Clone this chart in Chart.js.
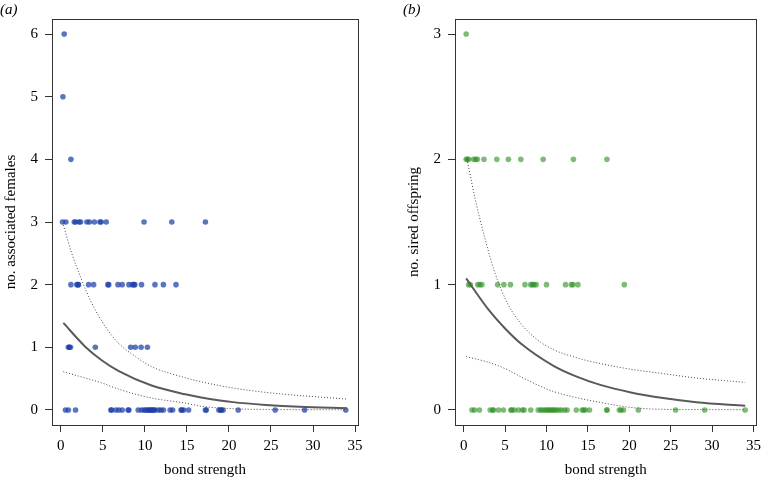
<!DOCTYPE html>
<html>
<head>
<meta charset="utf-8">
<script src="https://cdn.jsdelivr.net/npm/chart.js@4.4.0/dist/chart.umd.min.js"></script>
<style>
  body { margin: 0; background: #fff; }
  #wrapA { position: absolute; left: 0; top: 0; width: 380px; height: 479px; }
  #wrapB { position: absolute; left: 403px; top: 0; width: 363px; height: 479px; }
</style>
</head>
<body>
<div id="wrapA"><canvas id="chartA" width="380" height="479"></canvas></div>
<div id="wrapB"><canvas id="chartB" width="363" height="479"></canvas></div>
<script>
// axes
const xTicks = [0, 5, 10, 15, 20, 25, 30, 35];
const yTicksA = [0, 1, 2, 3, 4, 5, 6];
const yTicksB = [0, 1, 2, 3];

// (a) bond strength of males, grouped by no. associated females
const femalesAt0 = [0.55, 0.9, 1.75, 5.95, 6.05, 6.55, 6.9, 7.3, 8.0, 8.1, 9.2, 9.6, 9.9, 10.1, 10.3, 10.5, 10.6, 10.8, 10.9, 11.1, 11.2, 11.6, 11.9, 12.2, 13.0, 13.3, 14.3, 14.4, 14.6, 15.2, 17.2, 17.3, 18.8, 19.0, 19.1, 19.3, 21.1, 25.5, 29.0, 33.9];
const femalesAt1 = [0.9, 1.0, 1.15, 4.1, 8.3, 8.85, 9.55, 10.3];
const femalesAt2 = [1.2, 1.9, 2.05, 2.1, 3.3, 3.9, 5.6, 5.7, 6.8, 7.3, 8.1, 8.5, 8.7, 8.8, 9.6, 11.2, 12.2, 13.7];
const femalesAt3 = [0.2, 0.6, 1.6, 1.75, 2.15, 2.35, 3.1, 3.4, 4.0, 4.65, 4.8, 5.4, 9.9, 13.2, 17.2];
const femalesAt4 = [1.2];
const femalesAt5 = [0.25];
const femalesAt6 = [0.4];

// (b) bond strength of males, grouped by no. sired offspring
const offspringAt0 = [1.0, 1.3, 1.9, 3.2, 3.5, 3.6, 4.2, 4.8, 5.7, 5.8, 6.1, 6.6, 7.1, 7.3, 8.1, 9.0, 9.3, 9.5, 9.8, 10.0, 10.2, 10.4, 10.6, 10.8, 11.0, 11.2, 11.5, 11.8, 12.2, 12.5, 13.6, 14.3, 14.5, 14.7, 15.2, 17.3, 17.3, 18.8, 19.0, 19.3, 21.1, 25.6, 29.1, 34.0];
const offspringAt1 = [0.6, 0.8, 1.7, 1.95, 2.2, 4.1, 4.85, 5.65, 7.4, 8.1, 8.3, 8.5, 8.75, 10.0, 12.3, 13.0, 13.2, 13.8, 19.4];
const offspringAt2 = [0.3, 0.45, 0.6, 1.2, 1.45, 1.65, 2.45, 4.0, 5.4, 6.9, 9.6, 13.25, 17.3];
const offspringAt3 = [0.3];

// fitted curve and confidence band, (a)
const fitAX = [0.3, 2.9, 4.9, 6.9, 10.8, 14.8, 16.7, 20.5, 24.4, 28.4, 34];
const fitA = [1.39, 1.01, 0.79, 0.62, 0.39, 0.25, 0.2, 0.125, 0.08, 0.05, 0.028];
const upperAX = [0.3, 1.3, 2.5, 3.7, 5.3, 6.9, 8.9, 10.8, 13.6, 16.7, 20.5, 24.4, 28.4, 34];
const upperA = [2.95, 2.5, 2.07, 1.70, 1.33, 1.06, 0.85, 0.69, 0.56, 0.45, 0.35, 0.28, 0.23, 0.175];
const lowerAX = [0.3, 2.9, 4.9, 6.9, 10.8, 14.8, 16.7, 20.5, 24.4, 28.4, 34];
const lowerA = [0.61, 0.51, 0.43, 0.33, 0.19, 0.11, 0.06, 0.02, 0.008, 0.005, 0.003];

// fitted curve and confidence band, (b)
const fitBX = [0.3, 3.0, 5.0, 6.9, 10.9, 13.5, 16.5, 20.2, 24.1, 28.1, 34];
const fitB = [1.05, 0.8, 0.65, 0.53, 0.35, 0.27, 0.2, 0.14, 0.095, 0.062, 0.034];
const upperBX = [0.4, 1.4, 2.6, 3.8, 5.3, 6.9, 8.9, 10.9, 14.0, 16.5, 20.2, 24.1, 28.1, 34];
const upperB = [2.0, 1.68, 1.36, 1.09, 0.85, 0.69, 0.56, 0.48, 0.41, 0.37, 0.325, 0.29, 0.255, 0.22];
const lowerBX = [0.3, 3.0, 5.0, 6.9, 8.9, 10.9, 14.0, 16.5, 20.2, 24.1, 28.1, 34];
const lowerB = [0.425, 0.38, 0.33, 0.265, 0.2, 0.146, 0.093, 0.06, 0.02, 0.005, 0.003, 0.002];

const serif = "'Liberation Serif', 'DejaVu Serif', serif";

function rowsToPoints(rows) {
  const pts = [];
  rows.forEach((xs, count) => xs.forEach(x => pts.push({ x: x, y: count })));
  return pts;
}
function toLine(xs, ys) {
  return xs.map((x, i) => ({ x: x, y: ys[i] }));
}

// draws the full frame round the plot area, like R's box()
const boxPlugin = {
  id: "box",
  afterDraw(chart) {
    const ca = chart.chartArea;
    const ctx = chart.ctx;
    ctx.save();
    ctx.strokeStyle = "#333";
    ctx.lineWidth = 1;
    ctx.strokeRect(Math.round(ca.left) + 0.5, Math.round(ca.top) + 0.5,
      Math.round(ca.right - ca.left), Math.round(ca.bottom - ca.top));
    ctx.restore();
  }
};

function makeChart(id, opts) {
  return new Chart(document.getElementById(id), {
    type: "scatter",
    data: {
      datasets: [
        { type: "line", data: toLine(opts.fitX, opts.fit), borderColor: "#5a5a5a", borderWidth: 2,
          pointRadius: 0, cubicInterpolationMode: "monotone", fill: false },
        { type: "line", data: toLine(opts.upX, opts.up), borderColor: "#444", borderWidth: 1,
          borderDash: [1, 2], pointRadius: 0, cubicInterpolationMode: "monotone", fill: false },
        { type: "line", data: toLine(opts.loX, opts.lo), borderColor: "#444", borderWidth: 1,
          borderDash: [1, 2], pointRadius: 0, cubicInterpolationMode: "monotone", fill: false },
        { data: rowsToPoints(opts.rows), backgroundColor: opts.color, borderWidth: 0, pointRadius: 2.8 }
      ]
    },
    options: {
      responsive: false,
      animation: false,
      layout: { padding: { left: 0, right: opts.padRight, top: 0, bottom: 0 } },
      plugins: {
        legend: { display: false },
        tooltip: { enabled: false },
        title: {
          display: true, text: opts.label, align: "start", color: "#000",
          font: { family: serif, size: 15, style: "italic", weight: "normal" },
          padding: { top: 1, bottom: 0 }
        }
      },
      scales: {
        x: {
          type: "linear", min: -1.05, max: 35.35,
          afterBuildTicks: s => { s.ticks = xTicks.map(v => ({ value: v })); },
          afterFit: s => { s.height = 54; },
          grid: { drawOnChartArea: false, drawTicks: true, tickLength: 7, color: "#333" },
          border: { display: false },
          ticks: { color: "#000", padding: 5, font: { family: serif, size: 15 } },
          title: { display: true, text: "bond strength", color: "#000",
            font: { family: serif, size: 15 }, padding: { top: 0, bottom: 0 } }
        },
        y: {
          type: "linear", min: opts.yMin, max: opts.yMax,
          afterBuildTicks: s => { s.ticks = opts.yTicks.map(v => ({ value: v })); },
          afterFit: s => { s.width = 52; },
          grid: { drawOnChartArea: false, drawTicks: true, tickLength: 7, color: "#333" },
          border: { display: false },
          ticks: { color: "#000", padding: 7, font: { family: serif, size: 15 } },
          title: { display: true, text: opts.yTitle, color: "#000",
            font: { family: serif, size: 15 }, padding: { top: 2, bottom: 0 } }
        }
      }
    },
    plugins: [boxPlugin]
  });
}

makeChart("chartA", {
  label: "(a)", yTitle: "no. associated females", padRight: 22,
  yMin: -0.24, yMax: 6.24, yTicks: yTicksA,
  rows: [femalesAt0, femalesAt1, femalesAt2, femalesAt3, femalesAt4, femalesAt5, femalesAt6],
  color: "rgba(28, 62, 168, 0.72)",
  fitX: fitAX, fit: fitA, upX: upperAX, up: upperA, loX: lowerAX, lo: lowerA
});

makeChart("chartB", {
  label: "(b)", yTitle: "no. sired offspring", padRight: 5,
  yMin: -0.12, yMax: 3.12, yTicks: yTicksB,
  rows: [offspringAt0, offspringAt1, offspringAt2, offspringAt3],
  color: "rgba(45, 145, 35, 0.62)",
  fitX: fitBX, fit: fitB, upX: upperBX, up: upperB, loX: lowerBX, lo: lowerB
});
</script>
</body>
</html>
